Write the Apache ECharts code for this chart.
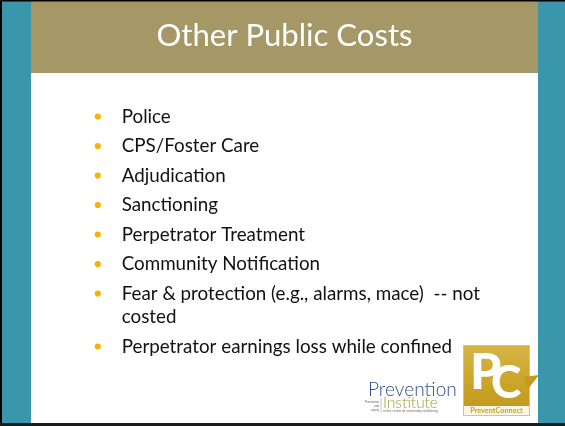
<!DOCTYPE html>
<html>
<head>
<meta charset="utf-8">
<script src="https://cdn.jsdelivr.net/npm/echarts@6/dist/echarts.min.js"></script>
<style>
  html, body { margin: 0; padding: 0; background: #fff; }
  #slide { width: 565px; height: 426px; }
</style>
</head>
<body>
<div id="slide"></div>
<script>
const title = 'Other Public Costs'
const items = [
  'Police',
  'CPS/Foster Care',
  'Adjudication',
  'Sanctioning',
  'Perpetrator Treatment',
  'Community Notification',
  'Fear & protection (e.g., alarms, mace)  -- not\ncosted',
  'Perpetrator earnings loss while confined'
]

const teal = '#3a96ab'
const olive = '#a69866'
const gold = '#c9a126'
const bulletColor = '#f6b400'
const font = 'Lato, "Open Sans", sans-serif'

// pick a font size so that a given text spans the width seen on the slide
const ctx = document.createElement('canvas').getContext('2d')
function fitSize(text, target, weight) {
  ctx.font = (weight || 'normal') + ' 100px ' + font
  return 100 * target / ctx.measureText(text).width
}
const titleSize = fitSize(title, 256)
const bodySize = fitSize('Perpetrator earnings loss while confined', 331)

const chart = echarts.init(document.getElementById('slide'))

const graphic = [
  // frame
  { type: 'rect', shape: { x: 0, y: 0, width: 565, height: 426 }, style: { fill: '#fff' } },
  { type: 'rect', shape: { x: 2, y: 1, width: 29, height: 422 }, style: { fill: teal } },
  { type: 'rect', shape: { x: 538, y: 1, width: 27, height: 422 }, style: { fill: teal } },
  { type: 'rect', shape: { x: 31, y: 1, width: 507, height: 72 }, style: { fill: olive } },
  { type: 'rect', shape: { x: 0, y: 0, width: 2, height: 426 }, style: { fill: '#000' } },
  { type: 'rect', shape: { x: 0, y: 0, width: 565, height: 1.5 }, style: { fill: '#000' } },
  { type: 'rect', shape: { x: 0, y: 423, width: 565, height: 3 }, style: { fill: '#1c1c1c' } },
  {
    type: 'text', x: 284.5, y: 51,
    style: { text: title, fill: '#fff', font: 'normal ' + titleSize.toFixed(1) + 'px ' + font, align: 'center', verticalAlign: 'bottom' }
  }
]

// bullet list
let baseline = 122.3
items.forEach(function (item) {
  const lines = item.split('\n')
  graphic.push({ type: 'circle', shape: { cx: 97.8, cy: baseline - 5.8, r: 3.1 }, style: { fill: bulletColor } })
  lines.forEach(function (line, j) {
    graphic.push({
      type: 'text', x: 121.7, y: baseline + j * 23.5 + bodySize * 0.22,
      style: { text: line, fill: '#111', font: 'normal ' + bodySize.toFixed(1) + 'px ' + font, align: 'left', verticalAlign: 'bottom' }
    })
  })
  baseline += 29.5 + (lines.length - 1) * 23.5
})

// Prevention Institute logo
graphic.push(
  { type: 'text', x: 368, y: 399, style: { text: 'Prevention', fill: '#2d4f8e', font: '300 ' + fitSize('Prevention', 89, '300').toFixed(1) + 'px ' + font, verticalAlign: 'bottom' } },
  { type: 'line', shape: { x1: 381, y1: 398, x2: 381, y2: 413 }, style: { stroke: '#9aa7b8', lineWidth: 0.6 } },
  { type: 'text', x: 383, y: 410.5, style: { text: 'Institute', fill: '#9e9d3c', font: '300 ' + fitSize('Institute', 55, '300').toFixed(1) + 'px ' + font, verticalAlign: 'bottom' } },
  { type: 'text', x: 379, y: 402, style: { text: 'Prevention', fill: '#666', font: '3px sans-serif', align: 'right', verticalAlign: 'middle' } },
  { type: 'text', x: 379, y: 406, style: { text: 'and', fill: '#666', font: '3px sans-serif', align: 'right', verticalAlign: 'middle' } },
  { type: 'text', x: 379, y: 410.5, style: { text: 'equity', fill: '#666', font: '3px sans-serif', align: 'right', verticalAlign: 'middle' } },
  { type: 'text', x: 383, y: 411, style: { text: 'at the center of community well-being', fill: '#666', font: '3.3px sans-serif', verticalAlign: 'middle' } }
)

// PreventConnect logo
graphic.push(
  { type: 'rect', shape: { x: 463, y: 345, width: 67, height: 71 }, style: { fill: '#e2c56a' } },
  {
    type: 'rect', shape: { x: 464, y: 346, width: 65, height: 60 },
    style: { fill: new echarts.graphic.LinearGradient(0, 0, 0, 1, [{ offset: 0, color: '#d6b443' }, { offset: 1, color: '#c39a1c' }]) }
  },
  { type: 'rect', shape: { x: 464, y: 406, width: 65, height: 9 }, style: { fill: '#fbf6e6' } },
  { type: 'text', x: 496.5, y: 411, style: { text: 'PreventConnect', fill: '#c9a126', font: 'bold 7.3px ' + font, align: 'center', verticalAlign: 'middle' } },
  { type: 'text', x: 470, y: 398, style: { text: 'P', fill: '#fff', font: '900 50px ' + font, verticalAlign: 'bottom' } },
  { type: 'text', x: 491, y: 406, style: { text: 'C', fill: '#fff', font: '900 46px ' + font, verticalAlign: 'bottom' } },
  { type: 'polygon', shape: { points: [[524, 377], [539, 375], [528, 389]] }, style: { fill: '#c39a1c' } }
)

chart.setOption({ animation: false, graphic: graphic })
</script>
</body>
</html>
